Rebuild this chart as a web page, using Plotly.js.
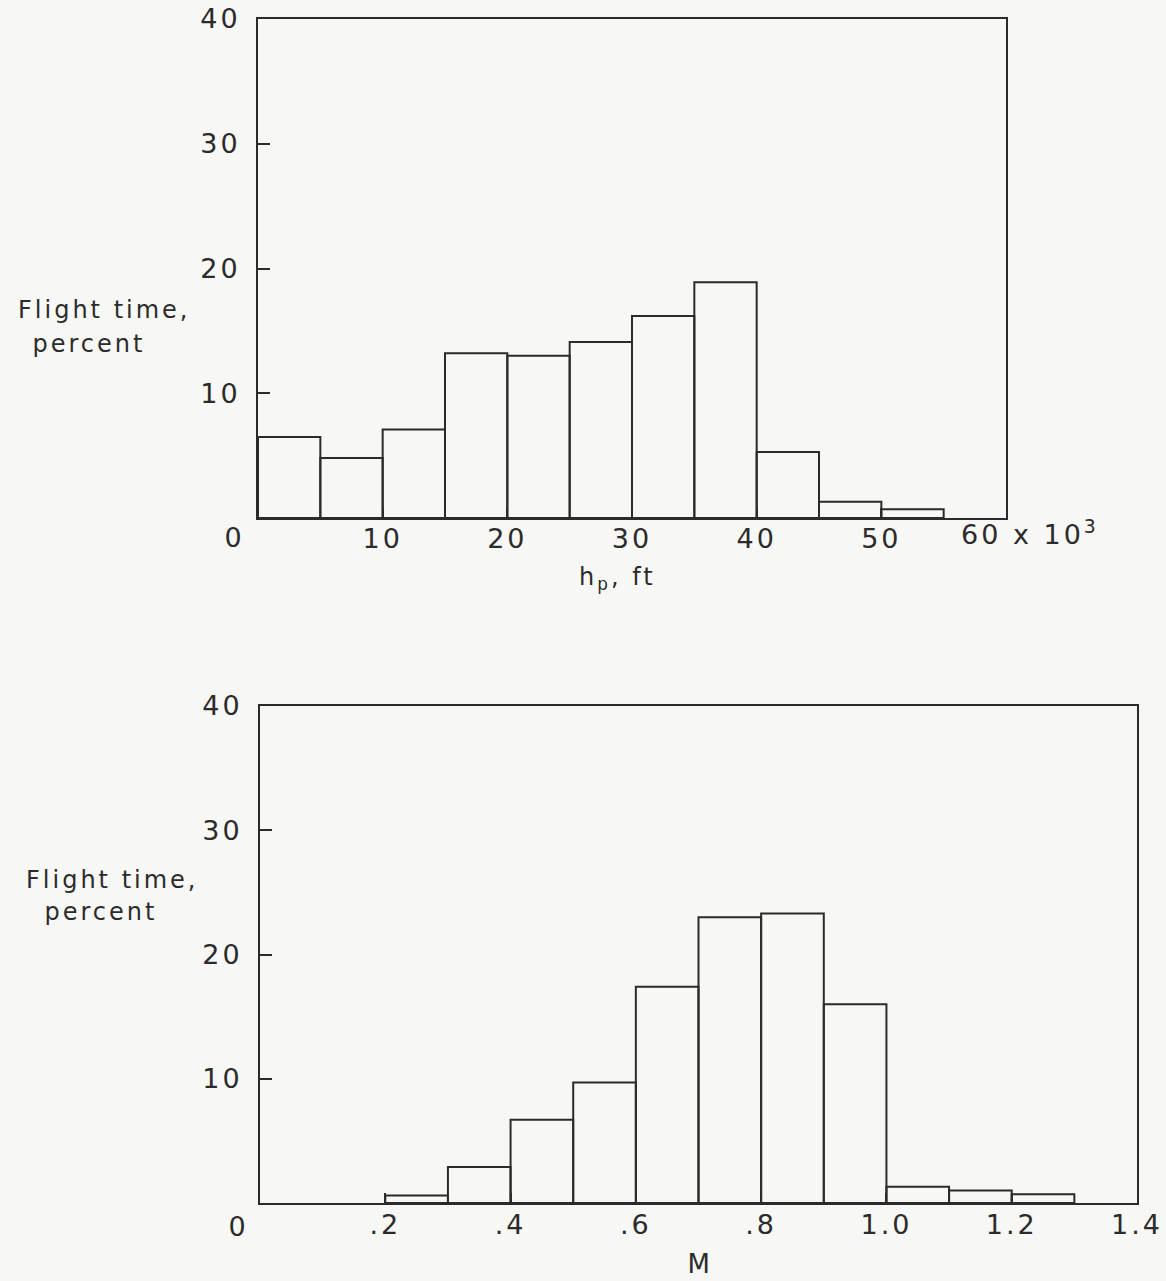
<!DOCTYPE html>
<html>
<head>
<meta charset="utf-8">
<script src="https://cdn.plot.ly/plotly-3.0.1.min.js"></script>
<style>
  html, body { margin: 0; padding: 0; background: #f7f7f5; }
  #chart { width: 1166px; height: 1281px; }
  .main-svg text { letter-spacing: 3px; }
</style>
</head>
<body>
<div id="chart"></div>
<script>
// ---- Data ----
// Top: pressure altitude h_p, thousands of ft; bins 5 (x10^3 ft) wide
const altBinStart = [0, 5, 10, 15, 20, 25, 30, 35, 40, 45, 50];
const altBinWidth = 5;
const altPercent  = [6.5, 4.8, 7.1, 13.2, 13.0, 14.1, 16.2, 18.9, 5.3, 1.3, 0.7];
const altTickVals = [10, 20, 30, 40, 50];
const altTickText = ["10", "20", "30", "40", "50"];

// Bottom: Mach number M; bins 0.1 wide
const machBinStart = [0.2, 0.3, 0.4, 0.5, 0.6, 0.7, 0.8, 0.9, 1.0, 1.1, 1.2];
const machBinWidth = 0.1;
const machPercent  = [0.6, 2.9, 6.7, 9.7, 17.4, 23.0, 23.3, 16.0, 1.3, 1.0, 0.7];
const machTickVals = [0.2, 0.4, 0.6, 0.8, 1.0, 1.2, 1.4];
const machTickText = [".2", ".4", ".6", ".8", "1.0", "1.2", "1.4"];

const yTickVals = [10, 20, 30, 40];
const yTickText = ["10", "20", "30", "40"];

// ---- Styling ----
const W = 1166, H = 1281;
const ink = "#2b2b2b";
const fontFam = "DejaVu Sans, sans-serif";
const px = x => x / W;
const py = y => 1 - y / H;

const barStyle = {
  type: "bar",
  marker: { color: "rgba(0,0,0,0)", line: { color: ink, width: 2 } },
  offset: 0,
  hoverinfo: "skip",
  showlegend: false
};

const traces = [
  Object.assign({}, barStyle, {
    x: altBinStart, y: altPercent,
    width: altBinStart.map(() => altBinWidth),
    xaxis: "x", yaxis: "y"
  }),
  Object.assign({}, barStyle, {
    x: machBinStart, y: machPercent,
    width: machBinStart.map(() => machBinWidth),
    xaxis: "x2", yaxis: "y2"
  })
];

const tickFont = { family: fontFam, size: 27, color: ink };
const labelFont = { family: fontFam, size: 24, color: ink };

const axisCommon = {
  showline: true, mirror: true, linecolor: ink, linewidth: 2,
  showgrid: false, zeroline: false,
  ticks: "inside", tickcolor: ink, tickwidth: 2,
  tickfont: tickFont,
  fixedrange: true
};

function note(text, x, y, font) {
  return { text: text, x: px(x), y: py(y), xref: "paper", yref: "paper", showarrow: false,
           xanchor: "center", yanchor: "middle", font: font };
}

const layout = {
  width: W, height: H,
  margin: { l: 0, r: 0, t: 0, b: 0 },
  paper_bgcolor: "#f7f7f5",
  plot_bgcolor: "#f7f7f5",
  bargap: 0,
  xaxis: Object.assign({}, axisCommon, {
    domain: [px(258), px(1006)], range: [0, 60],
    tickmode: "array", tickvals: altTickVals, ticktext: altTickText,
    ticklen: 10, ticklabelstandoff: -4, anchor: "y"
  }),
  yaxis: Object.assign({}, axisCommon, {
    domain: [py(518), py(19)], range: [0, 40],
    tickmode: "array", tickvals: yTickVals, ticktext: yTickText,
    ticklen: 12, ticklabelstandoff: 10, anchor: "x"
  }),
  xaxis2: Object.assign({}, axisCommon, {
    domain: [px(260), px(1137)], range: [0, 1.4],
    tickmode: "array", tickvals: machTickVals, ticktext: machTickText,
    ticklen: 10, ticklabelstandoff: -3, anchor: "y2"
  }),
  yaxis2: Object.assign({}, axisCommon, {
    domain: [py(1203), py(706)], range: [0, 40],
    tickmode: "array", tickvals: yTickVals, ticktext: yTickText,
    ticklen: 12, ticklabelstandoff: 10, anchor: "x2"
  }),
  annotations: [
    note("0", 234, 537, tickFont),
    note("0", 238, 1226, tickFont),
    note("60 x 10<sup>3</sup>", 1030, 532, tickFont),
    note("h<sub>p</sub>, ft", 617, 578, labelFont),
    note("M", 700, 1264, { family: fontFam, size: 26, color: ink }),
    note("Flight time,", 104, 310, labelFont),
    note("percent", 89, 344, labelFont),
    note("Flight time,", 112, 880, labelFont),
    note("percent", 101, 912, labelFont)
  ]
};

Plotly.newPlot("chart", traces, layout, { displayModeBar: false, staticPlot: true });
</script>
</body>
</html>
